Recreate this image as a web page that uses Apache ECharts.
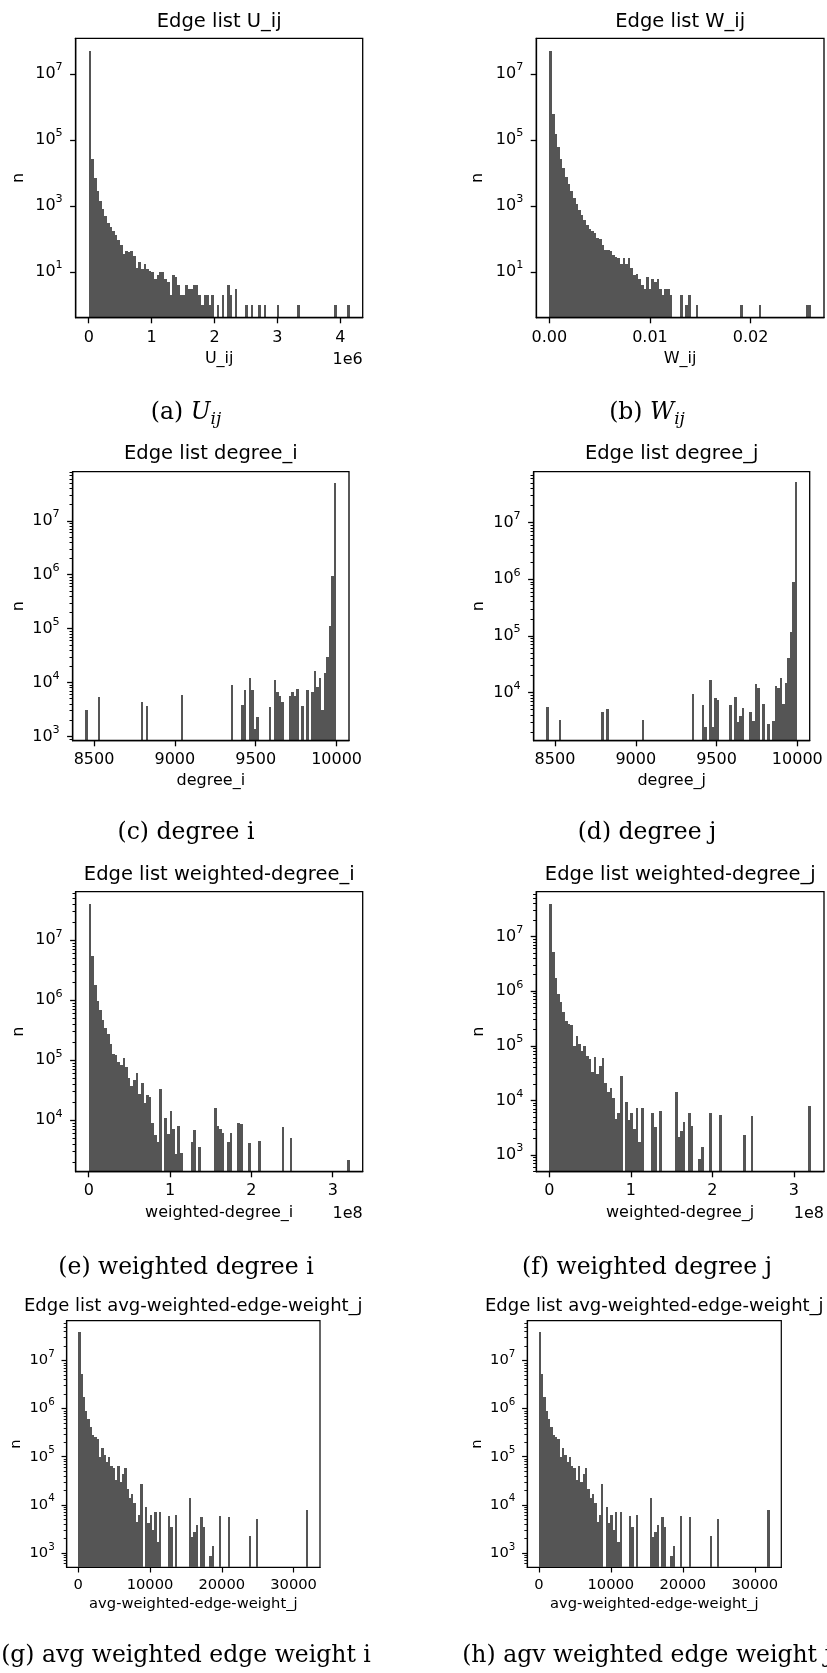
<!DOCTYPE html>
<html><head><meta charset="utf-8">
<script src="https://cdn.jsdelivr.net/npm/echarts@6/dist/echarts.min.js"></script>
<style>html,body{margin:0;padding:0;background:#fff}#c{width:827px;height:1673px}</style>
</head><body><div id="c"></div>
<script>
// ---------- histogram counts (100 bins each) ----------
const uijCounts = [
 50000000, 26000, 7100, 2800, 1460, 800, 500, 310, 225, 174,
 130, 96, 65, 36, 44, 40, 42, 30, 13, 20,
 12, 17, 12, 11, 10, 6, 8, 10, 10, 6,
 5, 2, 8, 7, 4, 2, 2, 4, 3, 3,
 4, 4, 2, 1, 2, 2, 1, 2, 0, 1,
 0, 2, 0, 4, 2, 0, 3, 0, 0, 0,
 1, 0, 1, 0, 0, 1, 0, 1, 0, 0,
 0, 0, 1, 0, 0, 0, 0, 0, 0, 0,
 1, 0, 0, 0, 0, 0, 0, 0, 0, 0,
 0, 0, 0, 0, 1, 0, 0, 0, 0, 1];
const wijCounts = [
 50000000, 620000, 150000, 63000, 26000, 13800, 7800, 4600, 2800, 1800,
 1170, 780, 540, 380, 275, 200, 178, 148, 105, 98,
 66, 47, 45, 42, 32, 29, 26, 17, 26, 18,
 26, 13, 8, 9, 6, 4, 3, 7, 3, 6,
 5, 6, 3, 2, 3, 3, 2, 0, 0, 0,
 2, 0, 1, 2, 0, 0, 1, 0, 0, 0,
 0, 0, 0, 0, 0, 0, 0, 0, 0, 0,
 0, 0, 0, 1, 0, 0, 0, 0, 0, 0,
 1, 0, 0, 0, 0, 0, 0, 0, 0, 0,
 0, 0, 0, 0, 0, 0, 0, 0, 1, 1];
const degreeICounts = [
 3100, 0, 0, 0, 0, 5400, 0, 0, 0, 0,
 0, 0, 0, 0, 0, 0, 0, 0, 0, 0,
 0, 0, 4400, 0, 3700, 0, 0, 0, 0, 0,
 0, 0, 0, 0, 0, 0, 0, 0, 5900, 0,
 0, 0, 0, 0, 0, 0, 0, 0, 0, 0,
 0, 0, 0, 0, 0, 0, 0, 0, 8900, 0,
 0, 0, 3800, 7200, 0, 12000, 7200, 1400, 2300, 0,
 0, 0, 0, 3500, 0, 11000, 6800, 5600, 4400, 0,
 0, 5500, 6800, 5500, 7600, 0, 3700, 0, 7200, 0,
 6800, 16600, 8100, 12000, 3100, 15000, 30000, 112000, 930000, 50000000];
const degreeJCounts = [
 5500, 0, 0, 0, 0, 3200, 0, 0, 0, 0,
 0, 0, 0, 0, 0, 0, 0, 0, 0, 0,
 0, 0, 4500, 0, 5000, 0, 0, 0, 0, 0,
 0, 0, 0, 0, 0, 0, 0, 0, 3200, 0,
 0, 0, 0, 0, 0, 0, 0, 0, 0, 0,
 0, 0, 0, 0, 0, 0, 0, 0, 9500, 0,
 0, 0, 5900, 2400, 0, 16600, 2400, 8100, 7200, 0,
 0, 0, 0, 5900, 0, 8300, 3000, 3900, 5200, 0,
 0, 4500, 3100, 13800, 12000, 0, 6200, 0, 2750, 0,
 3100, 13200, 12000, 18200, 6300, 14500, 40700, 117000, 910000, 52000000];
const wDegreeICounts = [
 40000000, 5400000, 1780000, 955000, 676000, 468000, 347000, 269000, 186000, 126000,
 120000, 93000, 83000, 110000, 76000, 51000, 37000, 47000, 60000, 27000,
 41000, 19500, 26000, 24500, 8900, 5600, 4300, 33000, 0, 10700,
 5800, 14000, 7100, 2750, 8100, 2800, 0, 0, 0, 4300,
 6800, 0, 3600, 0, 0, 0, 0, 0, 15800, 7900,
 7200, 6200, 0, 4300, 6200, 0, 0, 9100, 8500, 0,
 0, 4100, 0, 0, 0, 4500, 0, 0, 0, 0,
 0, 0, 0, 0, 7800, 0, 0, 5000, 0, 0,
 0, 0, 0, 0, 0, 0, 0, 0, 0, 0,
 0, 0, 0, 0, 0, 0, 0, 0, 0, 2200];
const wDegreeJCounts = [
 40000000, 5100000, 1740000, 890000, 630000, 410000, 280000, 250000, 240000, 100000,
 148000, 107000, 81000, 100000, 65000, 58000, 33000, 63000, 30000, 43000,
 60000, 20400, 14100, 16600, 11000, 4600, 5900, 28000, 0, 9300,
 4400, 5900, 3000, 7400, 1700, 7400, 0, 0, 0, 5900,
 3200, 0, 6500, 0, 0, 0, 0, 0, 14500, 2100,
 2700, 4100, 0, 5800, 3400, 0, 0, 830, 1400, 0,
 0, 5800, 0, 0, 0, 5500, 0, 0, 0, 0,
 0, 0, 0, 0, 2300, 0, 0, 5100, 0, 0,
 0, 0, 0, 0, 0, 0, 0, 0, 0, 0,
 0, 0, 0, 0, 0, 0, 0, 0, 0, 7900];
const avgWeightICounts = [
 39000000, 5200000, 1780000, 890000, 600000, 420000, 280000, 257000, 234000, 98000,
 151000, 110000, 79000, 100000, 65000, 58000, 33000, 65000, 30000, 44000,
 59000, 21000, 14100, 17000, 11000, 4400, 6000, 27500, 0, 9100,
 4200, 6000, 2950, 7100, 1700, 7100, 0, 0, 0, 5800,
 3400, 0, 6200, 0, 0, 0, 0, 0, 13800, 2100,
 2700, 3800, 0, 5500, 3400, 0, 0, 870, 1400, 0,
 0, 5900, 0, 0, 0, 5500, 0, 0, 0, 0,
 0, 0, 0, 0, 2200, 0, 0, 5100, 0, 0,
 0, 0, 0, 0, 0, 0, 0, 0, 0, 0,
 0, 0, 0, 0, 0, 0, 0, 0, 0, 7800];
const avgWeightJCounts = [
 39000000, 5200000, 1780000, 890000, 600000, 420000, 280000, 257000, 234000, 98000,
 151000, 110000, 79000, 100000, 65000, 58000, 33000, 65000, 30000, 44000,
 59000, 21000, 14100, 17000, 11000, 4400, 6000, 27500, 0, 9100,
 4200, 6000, 2950, 7100, 1700, 7100, 0, 0, 0, 5800,
 3400, 0, 6200, 0, 0, 0, 0, 0, 13800, 2100,
 2700, 3800, 0, 5500, 3400, 0, 0, 870, 1400, 0,
 0, 5900, 0, 0, 0, 5500, 0, 0, 0, 0,
 0, 0, 0, 0, 2200, 0, 0, 5100, 0, 0,
 0, 0, 0, 0, 0, 0, 0, 0, 0, 0,
 0, 0, 0, 0, 0, 0, 0, 0, 0, 7800];

// ---------- histogram data ranges ----------
const uijRange = [0, 4.15e6];
const wijRange = [0, 0.026];
const degreeRange = [8446, 9999];
const wDegreeRange = [0, 3.208e8];
const avgWeightRange = [0, 32080];

// ---------- tick values / labels ----------
const uijTicks = [0, 1e6, 2e6, 3e6, 4e6];
const wijTicks = [0, 0.01, 0.02];
const degreeTicks = [8500, 9000, 9500, 10000];
const wDegreeTicks = [0, 1e8, 2e8, 3e8];
const avgWeightTicks = [0, 10000, 20000, 30000];
const decadeTicksAB = [1, 3, 5, 7];
const decadeTicks3 = [3, 4, 5, 6, 7];
const decadeTicks4 = [4, 5, 6, 7];

const titles = ['Edge list U_ij', 'Edge list W_ij', 'Edge list degree_i', 'Edge list degree_j',
  'Edge list weighted-degree_i', 'Edge list weighted-degree_j',
  'Edge list avg-weighted-edge-weight_j', 'Edge list avg-weighted-edge-weight_j'];
const xNames = ['U_ij', 'W_ij', 'degree_i', 'degree_j', 'weighted-degree_i', 'weighted-degree_j',
  'avg-weighted-edge-weight_j', 'avg-weighted-edge-weight_j'];
const captions = ['(a) {it|U}{sub|ij}', '(b) {it|W}{sub|ij}', '(c) degree i', '(d) degree j',
  '(e) weighted degree i', '(f) weighted degree j', '(g) avg weighted edge weight i', '(h) agv weighted edge weight j'];

// ---------- layout ----------
const SANS = 'DejaVu Sans';
const SERIF = 'DejaVu Serif';
const panels = [
  {counts: uijCounts, range: uijRange, xt: uijTicks, xfmt: v => String(Math.round(v / 1e6)), yl: [-0.384, 8.08], yt: decadeTicksAB, minor: false,
   box: [75.7, 38.3, 287, 279.4], title: [219.2, 22], xgap: 33, ygap: 49, xm: 12, row: 0, offset: '1e6'},
  {counts: wijCounts, range: wijRange, xt: wijTicks, xfmt: v => v.toFixed(2), yl: [-0.384, 8.08], yt: decadeTicksAB, minor: false,
   box: [536.3, 38.3, 287.7, 279.4], title: [680.2, 22], xgap: 33, ygap: 50, xm: 12, row: 0},
  {counts: degreeICounts, range: degreeRange, xt: degreeTicks, xfmt: v => String(v), yl: [2.92, 7.91], yt: decadeTicks3, minor: true,
   box: [72.7, 471.7, 276.3, 269], title: [210.8, 454], xgap: 32, ygap: 46, xm: 11, row: 1},
  {counts: degreeJCounts, range: degreeRange, xt: degreeTicks, xfmt: v => String(v), yl: [3.146, 7.90], yt: decadeTicks4, minor: true,
   box: [533.7, 471.7, 276, 269], title: [671.7, 454], xgap: 32, ygap: 47, xm: 11, row: 1},
  {counts: wDegreeICounts, range: wDegreeRange, xt: wDegreeTicks, xfmt: v => String(Math.round(v / 1e8)), yl: [3.14, 7.81], yt: decadeTicks4, minor: true,
   box: [75.7, 891.7, 287, 280], title: [219.2, 874.5], xgap: 33, ygap: 48.5, xm: 11, row: 2, offset: '1e8'},
  {counts: wDegreeJCounts, range: wDegreeRange, xt: wDegreeTicks, xfmt: v => String(Math.round(v / 1e8)), yl: [2.695, 7.82], yt: decadeTicks3, minor: true,
   box: [536.3, 891.7, 287.7, 280], title: [680.2, 874.5], xgap: 33, ygap: 49.5, xm: 11, row: 2, offset: '1e8'},
  {counts: avgWeightICounts, range: avgWeightRange, xt: avgWeightTicks, xfmt: v => String(v), yl: [2.70, 7.83], yt: decadeTicks3, minor: true,
   box: [66.7, 1320.7, 253.3, 246.6], title: [193.3, 1306], xgap: 29, ygap: 43, xm: 10, row: 3},
  {counts: avgWeightJCounts, range: avgWeightRange, xt: avgWeightTicks, xfmt: v => String(v), yl: [2.70, 7.83], yt: decadeTicks3, minor: true,
   box: [527.3, 1320.7, 254, 246.6], title: [654.3, 1306], xgap: 29, ygap: 43, xm: 10, row: 3}
];
const captionPos = [[186, 413], [647, 413], [186, 832.5], [647, 832.5], [186, 1267.5], [647, 1267.5], [186, 1656], [647, 1656]];

const BAR = '#555555';

function minorTicks(lo, hi) {
  const out = [];
  for (let n = Math.floor(lo); n <= Math.ceil(hi); n++) {
    for (let k = 2; k <= 9; k++) {
      const v = n + Math.log10(k);
      if (v > lo && v < hi) out.push(v);
    }
  }
  return out;
}

function barRenderer(base) {
  return function (params, api) {
    const bl = api.coord([api.value(0), base]);
    const tr = api.coord([api.value(1), api.value(2)]);
    const x0 = Math.round(bl[0]), x1 = Math.round(tr[0]);
    const yb = Math.round(bl[1]), yt = Math.round(tr[1]);
    return {
      type: 'rect',
      shape: {x: x0, y: yt, width: Math.max(1, x1 - x0), height: yb - yt},
      style: {fill: BAR}
    };
  };
}

const option = {animation: false, backgroundColor: '#ffffff', grid: [], xAxis: [], yAxis: [], series: [], graphic: []};

panels.forEach((p, i) => {
  const small = p.row === 3;
  const fs = small ? 14.7 : 16;
  const sfs = small ? 10.3 : 11.2;
  const tfs = small ? 18 : 19.5;
  const tl = small ? 5.2 : 5.6;
  const ml = small ? 3.0 : 3.2;
  const lw = small ? 1.2 : 1.3;
  option.grid.push({left: p.box[0], top: p.box[1], width: p.box[2], height: p.box[3], show: true,
    borderColor: '#000', borderWidth: lw, backgroundColor: 'transparent', containLabel: false, outerBoundsMode: 'none'});
  const R = p.range[1] - p.range[0];
  option.xAxis.push({
    type: 'value', gridIndex: i, min: p.range[0] - 0.05 * R, max: p.range[1] + 0.05 * R, position: 'bottom', z: 5,
    name: xNames[i], nameLocation: 'middle', nameGap: p.xgap,
    nameTextStyle: {fontFamily: SANS, fontSize: fs, color: '#000'},
    axisLine: {show: true, onZero: false, lineStyle: {color: '#000', width: lw}},
    axisTick: {show: true, length: tl, customValues: p.xt, lineStyle: {color: '#000', width: lw}},
    axisLabel: {show: true, customValues: p.xt, formatter: p.xfmt, margin: p.xm, fontFamily: SANS, fontSize: fs, color: '#000'},
    splitLine: {show: false}, minorTick: {show: false}
  });
  const yi = option.yAxis.length;
  option.yAxis.push({
    type: 'value', gridIndex: i, min: p.yl[0], max: p.yl[1], position: 'left', z: 5,
    name: 'n', nameLocation: 'middle', nameGap: p.ygap, nameRotate: 90,
    nameTextStyle: {fontFamily: SANS, fontSize: fs, color: '#000'},
    axisLine: {show: true, onZero: false, lineStyle: {color: '#000', width: lw}},
    axisTick: {show: true, length: tl, customValues: p.yt, lineStyle: {color: '#000', width: lw}},
    axisLabel: {show: true, customValues: p.yt, formatter: v => '10{s|' + Math.round(v) + '}', margin: small ? 12 : 13,
      fontFamily: SANS, fontSize: fs, color: '#000', lineHeight: small ? 22 : 24,
      rich: {s: {fontFamily: SANS, fontSize: sfs, color: '#000', verticalAlign: 'top', lineHeight: sfs + 1}}},
    splitLine: {show: false}
  });
  if (p.minor) {
    const mv = minorTicks(p.yl[0], p.yl[1]);
    option.yAxis.push({
      type: 'value', gridIndex: i, min: p.yl[0], max: p.yl[1], position: 'left', z: 5,
      axisLine: {show: false, onZero: false},
      axisTick: {show: true, length: ml, customValues: mv, lineStyle: {color: '#000', width: small ? 0.9 : 1}},
      axisLabel: {show: false, customValues: mv},
      splitLine: {show: false}
    });
  }
  const w = R / p.counts.length;
  const data = [];
  p.counts.forEach((c, k) => {
    if (c > 0) data.push([p.range[0] + k * w, p.range[0] + (k + 1) * w, Math.log10(c)]);
  });
  option.series.push({
    type: 'custom', xAxisIndex: i, yAxisIndex: yi, clip: true, z: 2, silent: true,
    renderItem: barRenderer(p.yl[0]), encode: {x: [0, 1], y: 2}, data: data
  });
  option.graphic.push({
    type: 'text', x: p.title[0], y: p.title[1], silent: true,
    style: {text: titles[i], fontFamily: SANS, fontSize: tfs, fill: '#000',
      align: 'center', verticalAlign: 'middle', textAlign: 'center', textVerticalAlign: 'middle'}
  });
  if (p.offset) {
    option.graphic.push({
      type: 'text', x: p.box[0] + p.box[2], y: p.box[1] + p.box[3] + p.xgap + 9, silent: true,
      style: {text: p.offset, fontFamily: SANS, fontSize: fs, fill: '#000',
        align: 'right', verticalAlign: 'middle', textAlign: 'right', textVerticalAlign: 'middle'}
    });
  }
  const cp = captionPos[i];
  option.graphic.push({
    type: 'text', x: cp[0], y: cp[1], silent: true,
    style: {text: captions[i], fontFamily: SERIF, fontSize: 23.5, fill: '#000', lineHeight: 30,
      align: 'center', verticalAlign: 'middle', textAlign: 'center', textVerticalAlign: 'middle',
      rich: {
        it: {fontFamily: SERIF, fontSize: 23.5, fontStyle: 'italic', lineHeight: 30},
        sub: {fontFamily: SERIF, fontSize: 17, fontStyle: 'italic', lineHeight: 16, verticalAlign: 'bottom'}
      }}
  });
});

const chart = echarts.init(document.getElementById('c'), null, {renderer: 'canvas', width: 827, height: 1673});
chart.setOption(option);
</script>
</body></html>
